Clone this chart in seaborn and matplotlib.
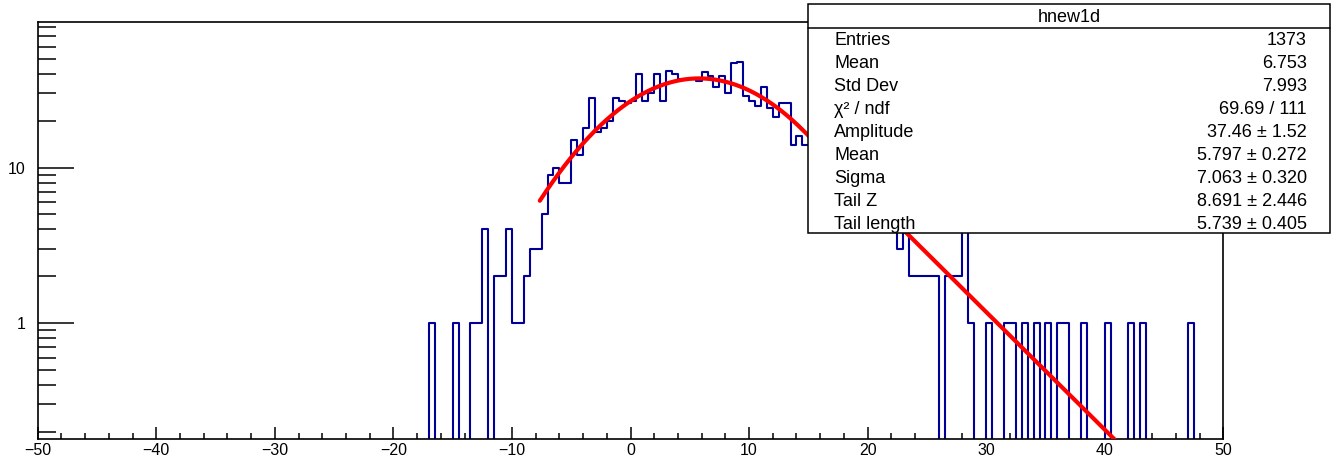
import numpy as np
import pandas as pd
import seaborn as sns
import matplotlib.pyplot as plt
from matplotlib.patches import Rectangle
from matplotlib.lines import Line2D
from matplotlib.ticker import MultipleLocator, LogLocator, NullFormatter

# Гистограмма hnew1d: 200 бинов шириной 0.5 на [-50, 50], лог. шкала по y
x_min, x_max, bin_w = -50.0, 50.0, 0.5
first_bin = -17.0  # левый край первого ненулевого бина

# содержимое бинов начиная с -17 (по 10 бинов = 5 единиц в строке)
counts = [
    1, 0, 0, 0, 1, 0, 0, 1, 1, 4,          # -17 .. -12.5
    0, 2, 2, 4, 1, 1, 2, 3, 3, 5,          # -12 .. -7.5
    9, 10, 8, 8, 15, 12, 18, 28, 17, 18,   # -7 .. -2.5
    20, 28, 27, 26, 27, 40, 27, 30, 40, 27,  # -2 .. 2.5
    42, 40, 37, 37, 37, 36, 41, 39, 33, 39,  # 3 .. 7.5
    30, 47, 48, 29, 27, 25, 33, 24, 21, 26,  # 8 .. 12.5
    26, 14, 16, 14, 14, 13, 11, 12, 9, 10,   # 13 .. 17.5 (15+ спрятано под статбоксом)
    8, 7, 6, 7, 6, 5, 6, 4, 5, 3,            # 18 .. 22.5
    4, 2, 2, 2, 2, 2, 0, 2, 2, 2,            # 23 .. 27.5
    4, 1, 0, 0, 1, 0, 0, 1, 1, 0,            # 28 .. 32.5
    1, 0, 1, 0, 1, 0, 1, 1, 0, 0,            # 33 .. 37.5
    1, 0, 0, 0, 1, 0, 0, 0, 1, 0,            # 38 .. 42.5
    1, 0, 0, 0, 0, 0, 0, 0, 1, 0,            # 43 .. 47.5
]

# статистика и параметры фита из статбокса
stat_names = ["Entries", "Mean", "Std Dev", "χ² / ndf"]
stat_values = ["1373", "6.753", "7.993", "69.69 / 111"]
fit_names = ["Amplitude", "Mean", "Sigma", "Tail Z", "Tail length"]
fit_values = [37.46, 5.797, 7.063, 8.691, 5.739]
fit_errors = [1.52, 0.272, 0.320, 2.446, 0.405]
fit_digits = [2, 3, 3, 3, 3]
fit_range = (-7.65, 50.0)

# полный массив бинов
n_bins = int(round((x_max - x_min) / bin_w))
centers = x_min + bin_w * (np.arange(n_bins) + 0.5)
all_counts = np.zeros(n_bins)
i0 = int(round((first_bin - x_min) / bin_w))
all_counts[i0:i0 + len(counts)] = counts
hist_df = pd.DataFrame({"x": centers, "n": all_counts})

# функция фита: гаусс с экспоненциальным хвостом справа
amp, mu, sig, tail_z, tail_len = fit_values
xf = np.linspace(fit_range[0], fit_range[1], 800)
z = xf - mu
yf = np.where(z <= tail_z,
              amp * np.exp(-z ** 2 / (2 * sig ** 2)),
              amp * np.exp(-tail_z ** 2 / (2 * sig ** 2)) * np.exp(-(z - tail_z) / tail_len))
fit_df = pd.DataFrame({"x": xf, "y": yf})

sns.set_style("white")
plt.rcParams["font.family"] = ["Liberation Sans", "DejaVu Sans"]
plt.rcParams["text.color"] = "black"
plt.rcParams["xtick.color"] = "black"
plt.rcParams["ytick.color"] = "black"

W, H = 1338, 459
fig = plt.figure(figsize=(W / 100, H / 100), dpi=100)

def fx(p):
    return p / W

def fy(p):
    return 1 - p / H

ax = fig.add_axes([fx(37.7), fy(438.8), fx(1223.3) - fx(37.7), fy(22.3) - fy(438.8)])

sns.histplot(data=hist_df, x="x", weights="n", binwidth=bin_w, binrange=(x_min, x_max),
             element="step", fill=False, color="#000099", linewidth=1.5, ax=ax)
sns.lineplot(data=fit_df, x="x", y="y", color="#ff0000", linewidth=3, ax=ax, zorder=5)

ax.set_yscale("log")
ax.set_xlim(x_min, x_max)
ax.set_ylim(0.18, 86)
ax.set_xlabel("")
ax.set_ylabel("")

ax.xaxis.set_major_locator(MultipleLocator(10))
ax.xaxis.set_minor_locator(MultipleLocator(2))
ax.set_yticks([1, 10])
ax.set_yticklabels(["1", "10"])
ax.yaxis.set_minor_locator(LogLocator(base=10, subs=np.arange(2, 10)))
ax.yaxis.set_minor_formatter(NullFormatter())

ax.tick_params(which="both", direction="in", bottom=True, left=True, top=False, right=False,
               colors="black", labelsize=11.5, width=1.1)
ax.tick_params(axis="y", which="major", length=26, pad=9)
ax.tick_params(axis="y", which="minor", length=13)
ax.tick_params(axis="x", which="major", length=9, pad=3)
ax.tick_params(axis="x", which="minor", length=4.5)
for s in ax.spines.values():
    s.set_color("black")
    s.set_linewidth(1.2)

# статбокс
bx0, bx1, by0, by1 = 808, 1330, 4, 233
fig.add_artist(Rectangle((fx(bx0), fy(by1)), fx(bx1) - fx(bx0), fy(by0) - fy(by1),
                         transform=fig.transFigure, facecolor="white", edgecolor="black",
                         linewidth=1.1, zorder=10))
fig.add_artist(Line2D([fx(bx0), fx(bx1)], [fy(27.5), fy(27.5)], transform=fig.transFigure,
                      color="black", linewidth=1.1, zorder=11))
fig.text(fx(1069), fy(21.5), "hnew1d", ha="center", va="baseline", fontsize=13, zorder=12)

rows = list(zip(stat_names, stat_values))
for name, v, e, d in zip(fit_names, fit_values, fit_errors, fit_digits):
    rows.append((name, f"{v:.{d}f} ± {e:.{d}f}"))
for k, (name, val) in enumerate(rows):
    yb = 45 + 23 * k
    fig.text(fx(834), fy(yb), name, ha="left", va="baseline", fontsize=13, zorder=12)
    fig.text(fx(1307), fy(yb), val, ha="right", va="baseline", fontsize=13, zorder=12)

fig.savefig("out.png", dpi=100)
